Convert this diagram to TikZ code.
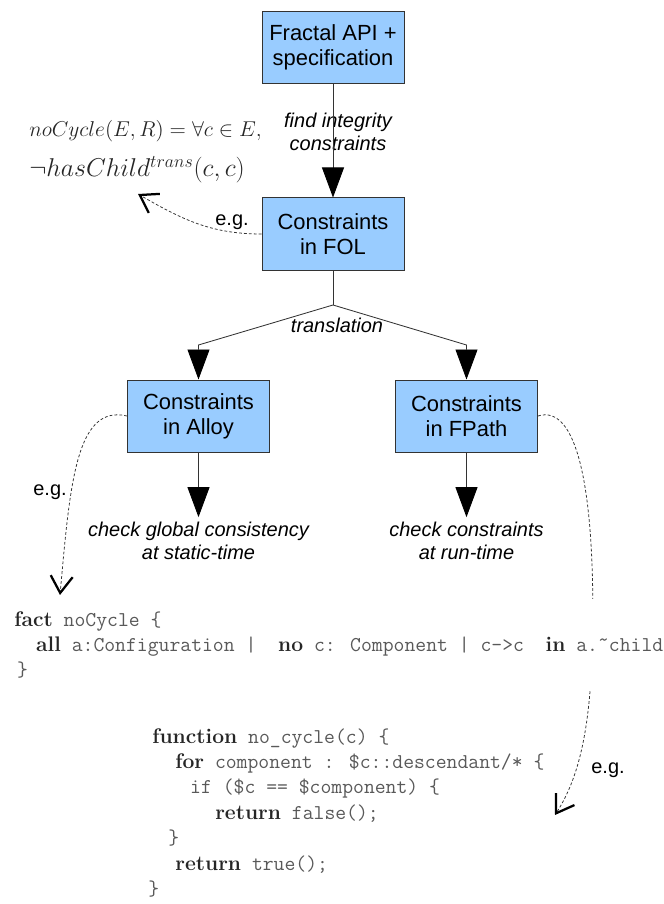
\documentclass[tikz,border=0pt]{standalone}
\usepackage{amsmath,amssymb}
\usepackage{fontspec}
\usetikzlibrary{arrows.meta}
\newfontfamily\arialfont{Liberation Sans}
\definecolor{boxblue}{HTML}{99CCFF}
\definecolor{linegray}{HTML}{333333}
\newcommand{\kw}[1]{{\rmfamily\bfseries\color{black!85}#1}}

\begin{document}
\begin{tikzpicture}
	[box/.style={draw=linegray,line width=0.7pt,fill=boxblue,minimum width=3.55cm,minimum height=1.8cm,align=center,font=\arialfont\fontsize{15.6}{17.8}\selectfont},
	 lbl/.style={align=center,font=\arialfont\itshape\fontsize{14.2}{16.4}\selectfont},
	 eglbl/.style={font=\arialfont\fontsize{14.2}{16.4}\selectfont},
	 flow/.style={draw=linegray,line width=0.6pt,-{Triangle[length=0.75cm,width=0.55cm,black]}},
	 eg/.style={draw=linegray,line width=0.55pt,dash pattern=on 2pt off 1.5pt,-{Straight Barb[length=0.42cm,width=0.55cm,line width=1.6pt,black]}},
	 code/.style={align=left,inner xsep=0pt,text=black!65,font=\ttfamily}]
	\useasboundingbox (0,0) rectangle (16.6,22.6);

	  \node[box] (api) at (8.325,21.41) {Fractal API +\\specification};
	  \node[box] (fol) at (8.325,16.75) {Constraints\\in FOL};
	  \node[box] (alloy) at (4.9625,12.2) {Constraints\\in Alloy};
	  \node[box] (fpath) at (11.6625,12.2) {Constraints\\in FPath};

	  \node[lbl] (find) at (8.45,19.3) {find integrity\\constraints};
	  \node[lbl] (transl) at (8.425,14.475) {translation};
	  \node[lbl] (chkA) at (4.9625,9.075) {check global consistency\\at static-time};
	  \node[lbl] (chkF) at (11.6625,9.075) {check constraints\\at run-time};

	  \coordinate (split) at (8.325,14.975);
	  \coordinate (la) at (4.9625,13.975);
	  \coordinate (ra) at (11.6625,13.975);

	\foreach \from/\to in {api/fol,alloy/chkA,fpath/chkF}
    \draw[flow] (\from) -- (\to);
    \draw[draw=linegray,line width=0.6pt] (fol) -- (split);
    \foreach \bend/\to in {la/alloy,ra/fpath}
    \draw[flow] (split) -- (\bend) -- (\to);

	  \node[anchor=west,align=left,text=black!85,scale=1.06,transform shape,font=\fontsize{14.4}{26.9}\selectfont] (fml) at (0.6,18.8)
	    {$noCycle(E,R) = \forall c \in E,$\\{\fontsize{17.28}{26.9}\selectfont$\neg hasChild^{trans}(c,c)$}};
	  \coordinate (fmlend) at (3.45,17.75);
	  \coordinate (aEnd) at (1.5,7.725);
	  \coordinate (fEnd) at (13.875,2.225);

    \draw[eg] (fol.west) to[out=180,in=-30] (fmlend);
    \draw[eg] (alloy.west) .. controls (1.9,12.5) and (1.75,10.5) .. (aEnd);
    \draw[eg] (fpath.east) .. controls (14.4,12.5) and (14.85,10.5) .. (14.82,7.0)
      .. controls (14.8,4.5) and (14.5,3.2) .. (fEnd);

	\node[eglbl] (eg1) at (5.8,17.05) {e.g.};
	\node[eglbl] (eg2) at (1.25,10.3) {e.g.};
	\node[eglbl] (eg3) at (15.2,3.35) {e.g.};

	  \node[code,fill=white,inner ysep=0.3cm,anchor=north west,font=\ttfamily\fontsize{15}{17.8}\selectfont] (alloycode) at (0.35,7.625)
	    {\kw{fact} noCycle \{\\
	     \hspace*{15.6pt}\kw{all} a:Configuration |\ \ \kw{no} c: Component | c->c\ \ \kw{in} a.\raisebox{0.45ex}{\textasciitilde}child\\
	     \hspace*{2pt}\}};

	  \node[code,inner ysep=0pt,anchor=north west,font=\ttfamily\fontsize{15}{18.1}\selectfont] (fpcode) at (3.8,4.4)
	    {\kw{function} no\_cycle(c) \{\\
	     \hspace*{16.4pt}\kw{for} component : \$c::descendant/* \{\\
	     \hspace*{27pt}if (\$c == \$component) \{\\
	     \hspace*{44.8pt}\kw{return} false();\\
	     \hspace*{11.4pt}\}\\
	     \hspace*{16.4pt}\kw{return} true();\\
	     \hspace*{-2.8pt}\}};

\end{tikzpicture}
\end{document}
